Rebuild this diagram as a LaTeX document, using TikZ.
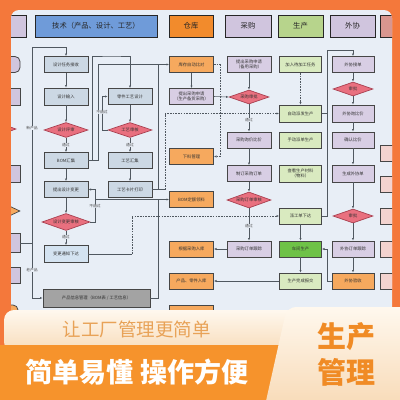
\documentclass[tikz,border=0pt]{standalone}
\usepackage{fontspec}
\newfontfamily\cjk{Noto Sans CJK SC}
\usetikzlibrary{shapes.geometric,arrows.meta}
\definecolor{frame}{HTML}{F4783B}
\definecolor{panel}{HTML}{E8EEF6}
\definecolor{hblue}{HTML}{6F9BD9}
\definecolor{horange}{HTML}{F28B2C}
\definecolor{lav}{HTML}{D0C5DE}
\definecolor{hgreen}{HTML}{B7D48C}
\definecolor{hrose}{HTML}{D8968F}
\definecolor{techfill}{HTML}{CCD8E4}
\definecolor{techtwo}{HTML}{D4E3F1}
\definecolor{worange}{HTML}{F6A95E}
\definecolor{pfill}{HTML}{D8CEE4}
\definecolor{gfill}{HTML}{D9EAC0}
\definecolor{gbright}{HTML}{6EC247}
\definecolor{dfill}{HTML}{E9707F}
\definecolor{dborder}{HTML}{A94050}
\definecolor{grayf}{HTML}{A3A3A3}
\definecolor{rpink}{HTML}{F3D3CF}
\definecolor{linec}{HTML}{505860}
\definecolor{bordc}{HTML}{464646}
\definecolor{creamtop}{HTML}{FFF8EE}
\definecolor{creambot}{HTML}{F8DCBA}
\definecolor{bandor}{HTML}{F6932C}
\definecolor{lighttxt}{HTML}{E8A257}
\definecolor{righttxt}{HTML}{F08B25}
\newcommand{\boxfont}{\cjk\fontsize{4.3}{5}\selectfont}
\newcommand{\hdrfont}{\cjk\fontsize{7.3}{8}\selectfont}
\newcommand{\lblfont}{\cjk\fontsize{3.8}{4.5}\selectfont}
\tikzset{
  box/.style={draw=bordc, line width=0.8pt, minimum width=44pt, minimum height=16pt, inner sep=0pt, align=center, font=\boxfont, text=black!80},
  tbox/.style={box, fill=techfill},
  wbox/.style={box, fill=worange},
  pbox/.style={box, fill=pfill},
  gbox/.style={box, fill=gfill, minimum width=42pt},
  obox/.style={box, fill=pfill, minimum width=42pt},
  rbox/.style={box, fill=rpink, minimum width=30pt},
  lbox/.style={box, fill=lav, minimum width=20pt},
  dia/.style={diamond, aspect=3, draw=dborder, line width=0.7pt, fill=dfill, minimum width=44pt, minimum height=15pt, inner sep=0pt, font=\boxfont, text=black!80},
  hdr/.style={draw=black!85, line width=1pt, minimum height=22pt, inner sep=0pt, font=\hdrfont, text=black!85},
  lbl/.style={fill=panel, inner sep=0.4pt, font=\lblfont, text=black!70},
  arr/.style={-{Latex[length=2.6pt,width=2.2pt]}, line width=0.55pt, draw=linec},
  ln/.style={line width=0.55pt, draw=linec},
  dsh/.style={dash pattern=on 1.6pt off 1.1pt}
}
\begin{document}
\begin{tikzpicture}[x=1pt,y=-1pt]
\useasboundingbox (0,0) rectangle (400,400);
\fill[frame] (0,0) rectangle (400,400);
\fill[panel, rounded corners=8pt] (11,10) rectangle (392,340);
\begin{scope}
\clip[rounded corners=8pt] (11,10) rectangle (392,340);
% headers
\node[hdr, fill=lav, minimum width=26pt] (hL) at (13,26) {};
\node[hdr, fill=hblue, minimum width=122pt] (hT) at (96,26) {技术（产品、设计、工艺）};
\node[hdr, fill=horange, minimum width=44pt] (hW) at (191,26) {仓库};
\node[hdr, fill=lav, minimum width=46pt] (hB) at (248,26) {采购};
\node[hdr, fill=hgreen, minimum width=45pt] (hP) at (300.5,26) {生产};
\node[hdr, fill=lav, minimum width=45pt] (hO) at (352.5,26) {外协};
\node[hdr, fill=hrose, minimum width=30pt] (hR) at (395,26) {};
% left partial column
\node[lbox, rounded corners=5pt] (l1) at (10,64.5) {};
\node[lbox, minimum height=17pt] (l2) at (10,96.5) {};
\node[dia, minimum width=32pt, minimum height=12pt] (l3) at (0,129) {};
\node[lbox, minimum height=17pt] (l4) at (10,173.5) {};
\node[dia, fill=worange, draw=bordc, minimum width=34pt, minimum height=16pt] (l5) at (3,211) {};
\node[lbox, minimum height=19pt] (l6) at (10,243) {};
\node[lbox] (l7) at (10,275) {};
\node[box, fill=worange, rounded corners=5pt, minimum width=20pt] (l8) at (8,313) {};
% right partial column
\node[rbox] (r1) at (395,153.5) {};
\node[rbox] (r2) at (395,184) {};
\node[rbox] (r3) at (395,216.5) {};
\node[rbox] (r4) at (395,249) {};
\node[rbox] (r5) at (395,281) {};
% tech left
\node[tbox] (t1) at (66,64.5) {设计任务接收};
\node[tbox, minimum height=17pt] (t2) at (66,96.5) {设计输入};
\node[dia] (d1) at (66,130) {设计评审};
\node[tbox] (t3) at (66,160.5) {BOM汇集};
\node[tbox] (t4) at (66,189.5) {提出设计变更};
\node[dia, minimum width=48pt, minimum height=17pt] (d2) at (66,222) {设计变更审核};
\node[box, fill=techtwo, minimum height=17pt] (t5) at (66,254) {变更通知下达};
\node[box, fill=grayf, minimum width=107pt, minimum height=18pt] (gr) at (96.5,298) {产品信息管理（BOM表 / 工艺信息）};
% tech right
\node[tbox] (t6) at (130,96.5) {零件工艺设计};
\node[dia] (d3) at (130,130) {工艺审核};
\node[tbox] (t7) at (130,160.5) {工艺汇集};
\node[tbox] (t8) at (130,189.5) {工艺卡片打印};
% warehouse
\node[wbox] (w1) at (191.5,64.5) {库存自动比对};
\node[pbox] (w2) at (191.5,96.5) {提出采购申请\\（生产备货采购）};
\node[wbox] (w3) at (191.5,156.5) {下料管理};
\node[wbox] (w4) at (191.5,199.5) {BOM定额领料};
\node[wbox] (w5) at (191.5,249) {根据采购入库};
\node[wbox] (w6) at (191.5,281) {产品、零件入库};
\node[wbox] (w7) at (191.5,313) {};
% purchase
\node[pbox] (p1) at (249,64.5) {提出采购申请\\（备用采购）};
\node[dia, minimum width=40pt, minimum height=14pt] (pd1) at (249,97) {采购审批};
\node[pbox] (p2) at (249,140) {采购询价比价};
\node[pbox] (p3) at (249,173.5) {制订采购订单};
\node[dia, minimum height=16pt] (pd2) at (249,200) {采购订单审核};
\node[pbox] (p4) at (249,249) {采购订单跟踪};
% production
\node[gbox] (g1) at (300.5,64.5) {加入待加工任务};
\node[gbox, minimum height=17pt] (g2) at (300.5,113.5) {自动派发生产};
\node[gbox] (g3) at (300.5,140) {手动派单生产};
\node[gbox, minimum height=17pt] (g4) at (300.5,173.5) {查看生产材料\\（物料）};
\node[gbox] (g5) at (300.5,216) {派工单下达};
\node[gbox, fill=gbright] (g6) at (300.5,249) {车间生产};
\node[gbox] (g7) at (300.5,281) {生产完成报交};
% outsourcing
\node[obox] (o1) at (353,64.5) {外协接单};
\node[dia, minimum width=40pt, minimum height=14pt] (od1) at (353,89) {审批};
\node[obox, minimum height=17pt] (o2) at (353,113.5) {外协询比价};
\node[obox] (o3) at (353,140) {确认比价};
\node[obox, minimum height=17pt] (o4) at (353,173.5) {生成外协单};
\node[dia, minimum width=40pt, minimum height=14pt] (od2) at (353,216) {审批};
\node[obox] (o5) at (353,249) {外协订单跟踪};
\node[obox, fill=worange] (o6) at (353,281) {外协验收};
% connectors: tech
\coordinate (c0) at (32,47);
\draw[arr] (c0) -| (t1.north);
\draw[arr] (c0) |- (gr.west);
\draw[ln] (l6.east) -- (32,243);
\draw[arr] (t1) -- (t2);
\draw[arr] (t2) -- (d1);
\draw[arr] (d1) -- (t3);
\draw[arr] (t3) -- (t4);
\draw[arr] (t4) -- (d2);
\draw[arr] (d2) -- (t5);
\draw[arr] (d2.east) -- (95,222) |- (t4.east);
\draw[ln] (t3.east) -- (98,160.5);
\draw[arr] (92,160.5) |- (112,56) -| (t6.north);
\draw[arr] (98,160.5) |- (w1.west);
\draw[arr] (d3.west) -- (102,130) |- (t6.west);
\draw[arr] (t6) -- (d3);
\draw[arr] (d3) -- (t7);
\draw[arr] (t7) -- (t8);
\draw[ln] (t8.east) -- (165,189.5);
\draw[ln] (158,189.5) -- (158,64.5);
\draw[arr, dsh] (165,189.5) |- (g2.west);
\draw[arr] (gr.east) -- (158,298) -- (158,199.5) -- (w4.west);
\draw[ln] (95,199.5) -- (158,199.5);
\draw[ln] (t5.east) -- (132,254);
\draw[arr, dsh] (132,254) |- (g5.west);
% warehouse & purchase
\draw[arr] (w1) -- (w2);
\draw[arr] (w2.east) -- (pd1.west);
\draw[arr, dsh] (w1.east) -- (220,64.5) |- (w3.east);
\draw[arr] (p1) -- (pd1);
\draw[arr] (pd1) -- (p2);
\draw[arr] (p2) -- (p3);
\draw[arr] (p3) -- (pd2);
\draw[arr] (pd2) -- (p4);
\draw[arr] (p4.west) -- (w5.east);
\draw[arr] (g7.west) -- (w6.east);
% production
\draw[arr, dsh] (g1) -- (g2);
\draw[ln] (g2.east) -- (327,113.5);
\draw[arr] (g5.east) -| (327,50) -| (o1.north);
\draw[arr] (g5) -- (g6);
\draw[arr] (g6) -- (g7);
\draw[arr] (o6.west) -- (327,281) |- (g6.east);
% outsourcing
\draw[arr] (o1) -- (od1);
\draw[arr] (od1) -- (o2);
\draw[arr] (o2) -- (o3);
\draw[arr] (o3) -- (o4);
\draw[arr] (o4) -- (od2);
\draw[arr] (od2) -- (o5);
\draw[arr] (o5) -- (o6);
% labels
\node[lbl] at (32,128) {新产品};
\node[lbl] at (32,270) {老产品};
\node[lbl] at (66,145) {通过};
\node[lbl] at (66,237) {通过};
\node[lbl] at (130,145) {通过};
\node[lbl] at (95,206) {不通过};
\node[lbl] at (102,112) {不通过};
\node[lbl] at (249,120) {通过};
\node[lbl] at (249,226) {通过};
\end{scope}
% banner
\shade[top color=creamtop, bottom color=creambot, rounded corners=10pt] (4,310) rectangle (300,352);
\fill[bandor] (0,345) rectangle (290,401);
\shade[top color=creamtop, bottom color=creambot] (266,401) [rounded corners=9pt] -- (287,307) [sharp corners] -- (401,307) -- (401,401) -- cycle;
\node[font=\cjk\fontsize{18.5}{20}\selectfont, text=lighttxt] (s1) at (137,329) {让工厂管理更简单};
\node[font=\cjk\bfseries\fontsize{27}{29}\selectfont, text=white] (s2) at (137,372) {简单易懂 操作方便};
\node[font=\cjk\bfseries\fontsize{29}{31}\selectfont, text=righttxt] (s3) at (346,337) {生产};
\node[font=\cjk\bfseries\fontsize{29}{31}\selectfont, text=righttxt] (s4) at (346,372) {管理};
\end{tikzpicture}
\end{document}
